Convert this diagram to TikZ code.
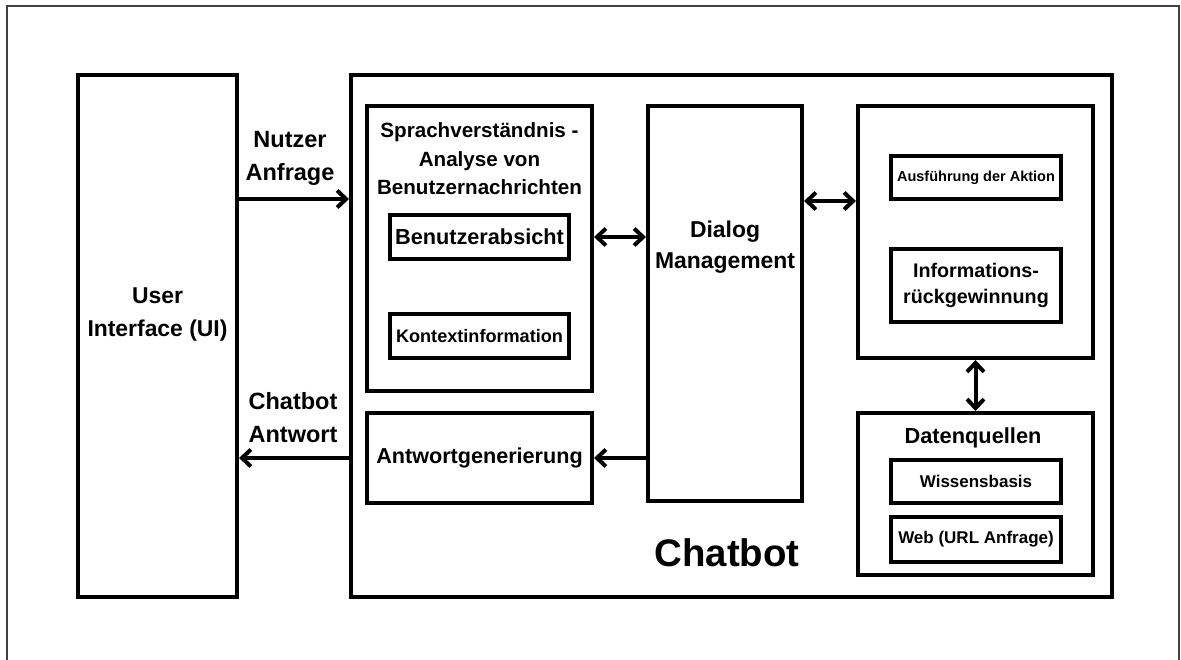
\documentclass[tikz,border=0pt]{standalone}
\usepackage{fontspec}
\setmainfont{Liberation Sans}
\usetikzlibrary{arrows.meta,positioning,calc}
\newcommand{\boxfont}[2]{\fontsize{#1}{#2}\selectfont\bfseries}

\begin{document}
\begin{tikzpicture}[x=1pt, y=-1pt, >={Straight Barb[length=9pt,width=17pt]},
    box/.style={draw, line width=4pt, inner sep=0pt, align=center},
    txt/.style={inner sep=0pt, align=center},
    arr/.style={->, line width=4pt},
    dblarr/.style={<->, line width=4pt}]
        \useasboundingbox (0,0) rectangle (1181,660);
        % Frame
        \draw[black!75, line width=1.5pt] (7,660) -- (7,6) -- (1179,6) -- (1179,660);

        % User interface
        \node[box, minimum width=159, minimum height=522] (ui) at (157.5,336) {};
        \node[txt, font=\boxfont{22.9}{33}] (uitxt) at (157.5,314.5) {User\\Interface (UI)};

        % Chatbot
        \node[box, minimum width=761, minimum height=522] (bot) at (731.5,336) {};
        \node[txt, font=\boxfont{38.4}{40}] (bottxt) at (727,553) {Chatbot};

        % Language understanding
        \node[box, minimum width=225, minimum height=285] (nlu) at (479.5,248.5) {};
        \node[txt, font=\boxfont{20.6}{28.5}] (nlutxt) at (479.5,159) {Sprachverständnis -\\Analyse von\\Benutzernachrichten};
        \node[box, minimum width=179, minimum height=44, font=\boxfont{21.7}{24}] (intent) at (479.5,237) {Benutzerabsicht};
        \node[box, minimum width=179, minimum height=44, font=\boxfont{18.1}{20}] (ctx) at (479.5,336) {Kontextinformation};

        % Response generation
        \node[box, minimum width=225, minimum height=90, font=\boxfont{21.6}{24}] (gen) at (479.5,458) {Antwortgenerierung};

        % Dialog management
        \node[box, minimum width=154, minimum height=395] (dm) at (725,303.5) {};
        \node[txt, font=\boxfont{22.9}{31}] (dmtxt) at (725,247.5) {Dialog\\Management};

        % Actions
        \node[box, minimum width=235, minimum height=252] (act) at (975.5,232) {};
        \node[box, minimum width=170, minimum height=43, font=\boxfont{14.5}{16}] (exec) at (976,177.5) {Ausführung der Aktion};
        \node[box, minimum width=170, minimum height=73, font=\boxfont{19.7}{26.7}] (ir) at (976,285.5) {Informations-\\rückgewinnung};

        % Data sources
        \node[box, minimum width=235, minimum height=162] (data) at (975.5,494) {};
        \node[txt, font=\boxfont{21.8}{24}] (datatxt) at (973,438) {Datenquellen};
        \node[box, minimum width=170, minimum height=43, font=\boxfont{17}{19}] (kb) at (976,481.5) {Wissensbasis};
        \node[box, minimum width=170, minimum height=45, font=\boxfont{17}{19}] (web) at (976,539.5) {Web (URL Anfrage)};

        % Connectors
        \coordinate (req) at (290,199);
        \coordinate (dmact) at (830,201);
        \draw[arr] (ui.east |- req) -- (bot.west |- req);
        \node[txt, font=\boxfont{23.5}{33}] (reqtxt) at (290,158.5) {Nutzer\\Anfrage};
        \draw[arr] (bot.west |- gen.west) -- (ui.east |- gen.west);
        \node[txt, font=\boxfont{23.5}{33}] (anstxt) at (293,418) {Chatbot\\Antwort};
        \draw[dblarr] (nlu.east |- intent) -- (dm.west |- intent);
        \draw[arr] (dm.west |- gen.east) -- (gen.east);
        \draw[dblarr] (dm.east |- dmact) -- (act.west |- dmact);
        \draw[dblarr] (act.south) -- (data.north);
    \end{tikzpicture}
\end{document}
